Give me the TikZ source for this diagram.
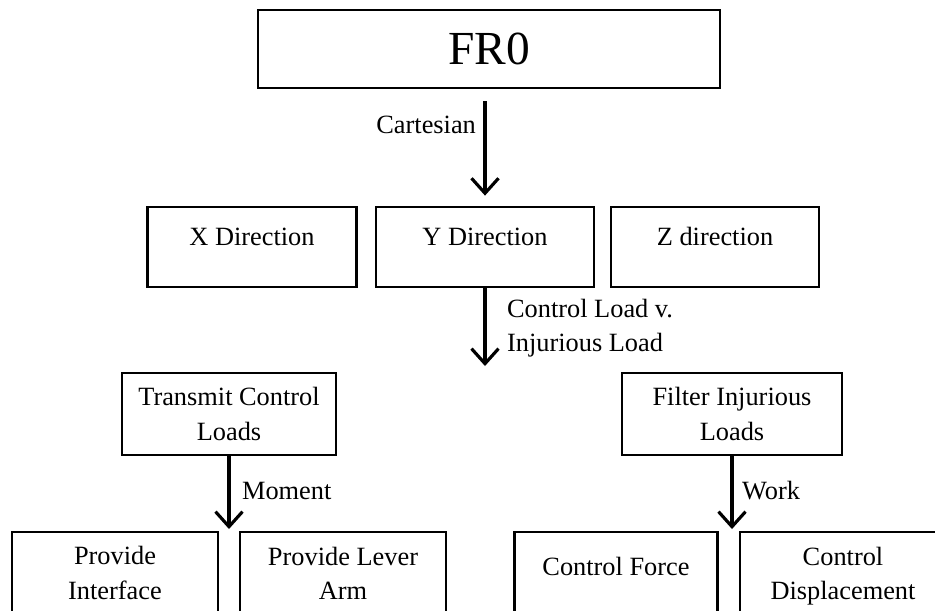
\documentclass[tikz,border=0pt]{standalone}
\usepackage{fontspec}
\setmainfont{Liberation Serif}
\usetikzlibrary{arrows.meta,calc}
\tikzset{
  % plain black frame, text in the reference's serif
  blk/.style   = {draw, line width=1.6pt, align=center, inner sep=0pt,
                  font=\fontsize{15}{19.5}\selectfont},
  rowbox/.style = {blk, text height=0.76cm, text depth=0.84cm, minimum width=#1},
  rowbox/.default = 4.2cm,
  pair/.style  = {blk, minimum width=#1, minimum height=1.64cm},
  pair/.default = 4.12cm,
  flow/.style  = {-{Straight Barb[length=3mm,width=5.4mm]}, line width=1.8pt},
  tag/.style   = {font=\fontsize{15}{19.5}\selectfont, inner sep=1pt, align=left},
}
\begin{document}
\begin{tikzpicture}[x=0.02cm,y=-0.02cm]
\useasboundingbox (0,0) rectangle (935,610);
\node[blk, minimum width=9.24cm, minimum height=1.56cm,
      font=\fontsize{27}{32}\selectfont] (fr0) at (489,49) {FR0};
% second row
\node[rowbox=4.18cm] (xdir) at (252,247) {X Direction};
\node[rowbox=4.36cm] (ydir) at (485,247) {Y Direction};
\node[rowbox=4.16cm] (zdir) at (715,247) {Z direction};
\draw[flow, shorten <=0.24cm, shorten >=0.2cm] (fr0.south -| ydir.north) -- (ydir.north);
\node[tag, anchor=east] (cart) at (478,125) {Cartesian};
% load split
\coordinate (split) at (485,366);
\draw[flow] (ydir.south) -- (split);
\node[tag, anchor=west] (ctrlinj) at (505,328) {Control Load v.\\Injurious Load};
\node[pair=4.28cm] (trans) at (229,414) {Transmit Control\\Loads};
\node[pair=4.4cm] (filt) at (732,414) {Filter Injurious\\Loads};
% bottom row
\coordinate (splitl) at (229,529);
\coordinate (splitr) at (732,529);
\draw[flow] (trans.south) -- (splitl);
\draw[flow] (filt.south) -- (splitr);
\node[tag, anchor=west] (mom) at (240,491) {Moment};
\node[tag, anchor=west] (work) at (740,491) {Work};
\node[pair] (iface) at (115,573) {Provide\\Interface};
\node[pair] (lever) at (343,573) {Provide Lever\\Arm};
\node[pair=4.06cm, text height=0.86cm, text depth=0.78cm] (force) at (616,573) {Control Force};
\node[pair, text depth=0pt] (disp) at (843,573) {Control\\Displacement};
\end{tikzpicture}
\end{document}
